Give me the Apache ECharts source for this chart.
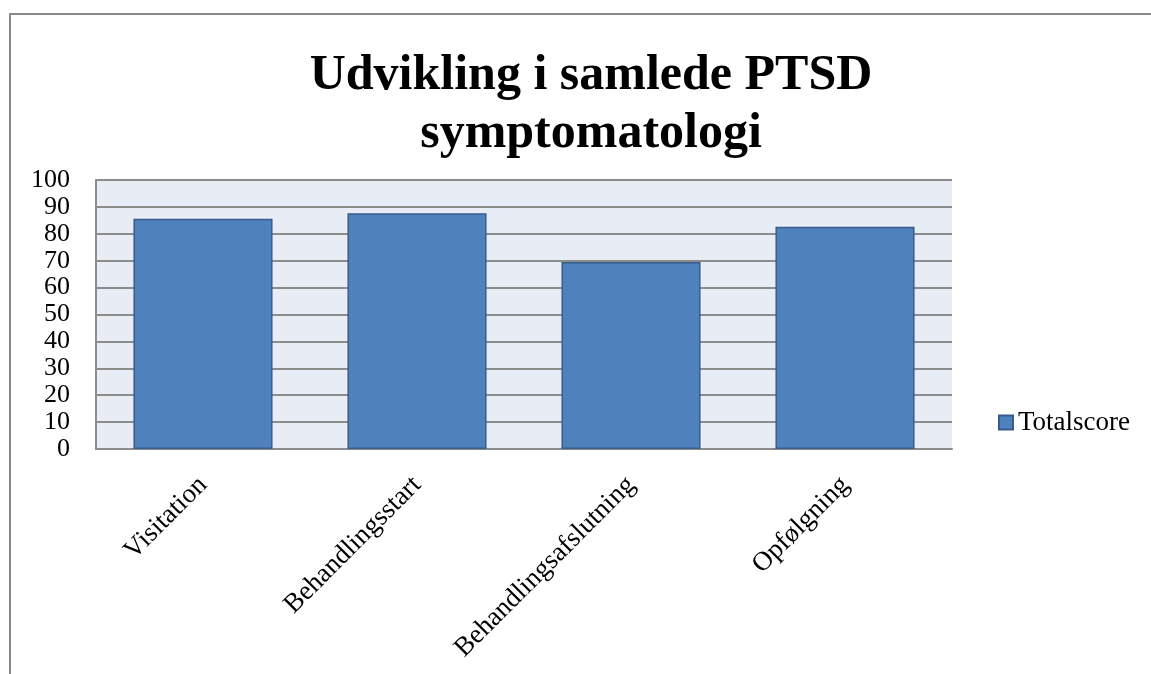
<!DOCTYPE html>
<html>
<head>
<meta charset="utf-8">
<script src="https://cdn.jsdelivr.net/npm/echarts@6/dist/echarts.min.js"></script>
<style>
  html, body { margin: 0; padding: 0; background: #fff; overflow: hidden; }
  .frame {
    position: absolute; left: 9px; top: 13px; width: 1300px; height: 800px;
    border-top: 2px solid #8a8a8a; border-left: 2px solid #8a8a8a;
  }
  #main { position: absolute; left: 0; top: 0; width: 1151px; height: 674px; }
</style>
</head>
<body>
<div class="frame"></div>
<div id="main"></div>
<script>
  // data
  var categories = ['Visitation', 'Behandlingsstart', 'Behandlingsafslutning', 'Opfølgning'];
  var totalscore = [85.6, 87.6, 69.5, 82.6];
  var seriesName = 'Totalscore';
  var titleText = 'Udvikling i samlede PTSD\nsymptomatologi';

  var serif = '"Liberation Serif", "DejaVu Serif", serif';
  var chart = echarts.init(document.getElementById('main'));

  var option = {
    animation: false,
    title: {
      text: titleText,
      left: 586,
      textAlign: 'center',
      top: 42,
      textStyle: {
        fontFamily: serif,
        fontSize: 50,
        fontWeight: 'bold',
        lineHeight: 58,
        color: '#000'
      }
    },
    legend: {
      data: [seriesName],
      icon: 'rect',
      left: 993,
      top: 404,
      itemWidth: 14,
      itemHeight: 14,
      textStyle: { fontFamily: serif, fontSize: 27, color: '#000' }
    },
    grid: {
      left: 96,
      right: 199,
      top: 180,
      bottom: 225,
      show: true,
      backgroundColor: '#E8ECF4',
      borderWidth: 0
    },
    xAxis: {
      type: 'category',
      data: categories,
      axisTick: { show: false },
      axisLine: { lineStyle: { color: '#8c8c8c', width: 2 } },
      axisLabel: {
        rotate: 45,
        interval: 0,
        margin: 32,
        fontFamily: serif,
        fontSize: 27,
        color: '#000'
      }
    },
    yAxis: {
      type: 'value',
      min: 0,
      max: 100,
      interval: 10,
      axisLine: { show: true, lineStyle: { color: '#8c8c8c', width: 2 } },
      axisTick: { show: false },
      splitLine: { lineStyle: { color: '#8c8c8c', width: 2 } },
      axisLabel: {
        margin: 26,
        fontFamily: serif,
        fontSize: 26,
        color: '#000'
      }
    },
    series: [{
      name: seriesName,
      type: 'bar',
      data: totalscore,
      barCategoryGap: '35%',
      itemStyle: {
        color: '#4F81BD',
        borderColor: '#385D8A',
        borderWidth: 1.5
      }
    }]
  };

  chart.setOption(option);
</script>
</body>
</html>
